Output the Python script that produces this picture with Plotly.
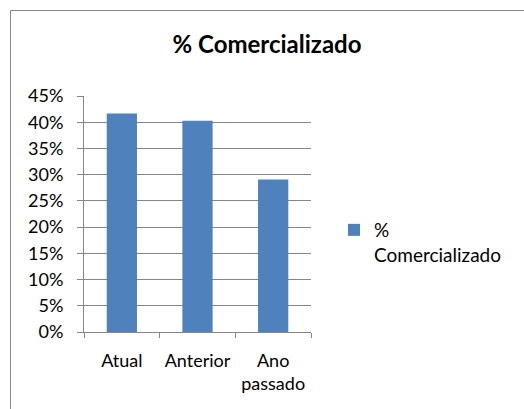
import plotly.graph_objects as go

categories = ["Atual", "Anterior", "Ano<br>passado"]
values = [0.4167, 0.403, 0.291]
series_name = "%<br>Comercializado"
title_text = "% Comercializado"
y_tickvals = [0, 0.05, 0.10, 0.15, 0.20, 0.25, 0.30, 0.35, 0.40, 0.45]

W, H = 524, 409
L, R, T, B = 84, 213, 96, 77
pw = W - L - R
ph = H - T - B

def px_x(x):
    return (x - L) / pw

def px_y(y):
    return (H - B - y) / ph

fig = go.Figure()
fig.add_trace(go.Bar(
    x=categories, y=values, name=series_name,
    marker=dict(color="#4F81BD", line=dict(width=0)),
    showlegend=True,
))

fig.update_layout(
    width=W, height=H,
    margin=dict(l=L, r=R, t=T, b=B, autoexpand=False),
    paper_bgcolor="white", plot_bgcolor="white",
    font=dict(family="Lato, Carlito, Calibri, sans-serif", size=19, color="#000000"),
    bargap=0.6,
    title=dict(text="<b>" + title_text + "</b>", x=px_x(267), xref="paper",
               xanchor="center", y=1 - 45 / H, yref="container", yanchor="middle",
               font=dict(size=24, color="#000000")),
    xaxis=dict(
        type="category", showline=True, linecolor="#868686", linewidth=1,
        ticks="outside", ticklen=5, tickcolor="#868686", tickson="boundaries",
        showgrid=False, tickfont=dict(size=18), tickangle=0, ticklabelstandoff=12,
    ),
    yaxis=dict(
        range=[0, 0.45], tickvals=y_tickvals, tickformat=".0%",
        showline=True, linecolor="#868686", linewidth=1,
        ticks="outside", ticklen=6, tickcolor="#868686",
        showgrid=True, gridcolor="#868686", gridwidth=1,
        tickfont=dict(size=18), zeroline=False, ticklabelstandoff=10,
    ),
    legend=dict(x=px_x(334), y=px_y(211), xanchor="left", yanchor="top",
                font=dict(size=19), itemwidth=30, valign="top",
                bgcolor="rgba(0,0,0,0)"),
    shapes=[
        dict(type="line", xref="paper", yref="paper",
             x0=px_x(10.5), x1=px_x(530), y0=px_y(10.5), y1=px_y(10.5),
             line=dict(color="#868686", width=1)),
        dict(type="line", xref="paper", yref="paper",
             x0=px_x(10.5), x1=px_x(10.5), y0=px_y(10.5), y1=px_y(415),
             line=dict(color="#868686", width=1)),
    ],
)

fig.write_html("out.html", config={"displayModeBar": False},
               post_script="document.body.style.margin='0';document.body.style.overflow='hidden';")
